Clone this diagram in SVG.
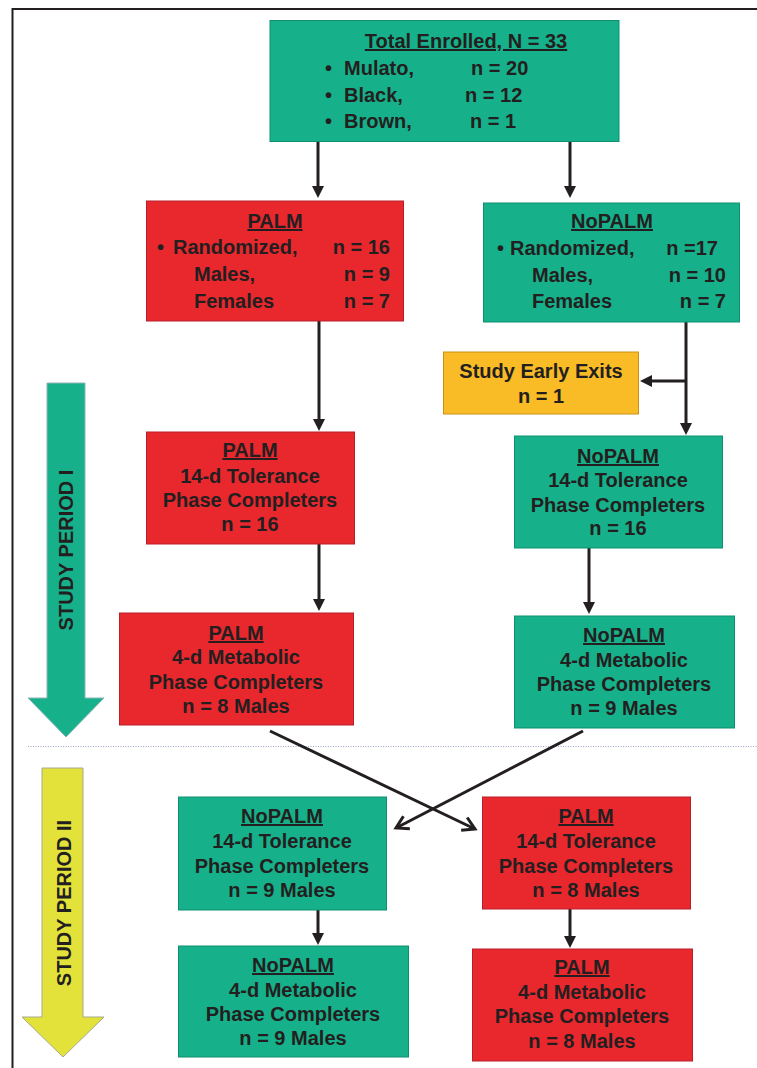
<svg xmlns="http://www.w3.org/2000/svg" width="757" height="1068" viewBox="0 0 757 1068">
<defs>
<style>
.t{font-family:"Liberation Sans",Arial,Helvetica,sans-serif;font-weight:bold;font-size:20px;fill:#231F20;}
.c{text-anchor:middle;}
.e{text-anchor:end;}
.u{text-decoration:underline;}
.g{fill:#16B08A;stroke:#0F8F70;stroke-width:1;}
.r{fill:#E9282E;stroke:#B81E28;stroke-width:1;}
.o{fill:#F9BB26;stroke:#C9921A;stroke-width:1;}
.ln{stroke:#231F20;stroke-width:3;fill:none;}
</style>
<marker id="tri" viewBox="0 0 12 12" markerWidth="12" markerHeight="12" refX="4" refY="6" orient="auto" markerUnits="userSpaceOnUse">
<path d="M0,0 L12,6 L0,12 z" fill="#231F20"/>
</marker>
<marker id="chev" viewBox="-2 -2 18 18" markerWidth="18" markerHeight="18" refX="13" refY="7" orient="auto" markerUnits="userSpaceOnUse">
<path d="M1,0 L13,7 L1,14" fill="none" stroke="#231F20" stroke-width="3"/>
</marker>
</defs>
<rect width="757" height="1068" fill="#ffffff"/>
<g id="frame">
<path d="M12.5,1068 L12.5,9 L757,9" fill="none" stroke="#231F20" stroke-width="2"/>
<line x1="28" y1="746.5" x2="757" y2="746.5" stroke="#9AA6C8" stroke-width="1" stroke-dasharray="1,1.5"/>
</g>
<g id="period1">
<polygon points="47,383 85,383 85,698 104,698 66,737 28,698 47,698" fill="#16B08A" stroke="#8FB3B8" stroke-width="1"/>
<text class="t c" transform="translate(73,550) rotate(-90)">STUDY PERIOD I</text>
</g>
<g id="period2">
<polygon points="42,768 83,768 83,1017 104,1017 63,1057 22,1017 42,1017" fill="#E3E23A" stroke="#A8A88A" stroke-width="1"/>
<text class="t c" transform="translate(71,903) rotate(-90)">STUDY PERIOD II</text>
</g>
<g id="connectors">
<line class="ln" x1="318" y1="142" x2="318" y2="190" marker-end="url(#tri)"/>
<line class="ln" x1="570" y1="142" x2="570" y2="190" marker-end="url(#tri)"/>
<line class="ln" x1="319" y1="321" x2="319" y2="423" marker-end="url(#tri)"/>
<line class="ln" x1="686" y1="322" x2="686" y2="427" marker-end="url(#tri)"/>
<line class="ln" x1="687" y1="381" x2="648" y2="381" marker-end="url(#tri)"/>
<line class="ln" x1="319" y1="544" x2="319" y2="603" marker-end="url(#tri)"/>
<line class="ln" x1="589" y1="548" x2="589" y2="606" marker-end="url(#tri)"/>
<line class="ln" x1="270" y1="731" x2="475" y2="829" marker-end="url(#chev)"/>
<line class="ln" x1="583" y1="731" x2="396" y2="828" marker-end="url(#chev)"/>
<line class="ln" x1="318" y1="910" x2="318" y2="937" marker-end="url(#tri)"/>
<line class="ln" x1="570" y1="909" x2="570" y2="940" marker-end="url(#tri)"/>
</g>
<g id="enrolled">
<rect class="g" x="270" y="20.5" width="349" height="121"/>
<text class="t c u" x="466" y="48">Total Enrolled, N = 33</text>
<text class="t" x="325" y="75">•</text>
<text class="t" x="344" y="75">Mulato,</text>
<text class="t" x="471" y="75">n = 20</text>
<text class="t" x="325" y="102">•</text>
<text class="t" x="344" y="102">Black,</text>
<text class="t" x="465" y="102">n = 12</text>
<text class="t" x="325" y="128">•</text>
<text class="t" x="344" y="128">Brown,</text>
<text class="t" x="470" y="128">n = 1</text>
</g>
<g id="palm">
<rect class="r" x="146.5" y="201" width="257" height="120"/>
<text class="t c u" x="275" y="228">PALM</text>
<text class="t" x="157" y="254">•</text>
<text class="t" x="173" y="254">Randomized,</text>
<text class="t e" x="390" y="254">n = 16</text>
<text class="t" x="194" y="281">Males,</text>
<text class="t e" x="390" y="281">n = 9</text>
<text class="t" x="194" y="308">Females</text>
<text class="t e" x="390" y="308">n = 7</text>
</g>
<g id="nopalm">
<rect class="g" x="483.5" y="203" width="256" height="119"/>
<text class="t c u" x="612" y="228">NoPALM</text>
<text class="t" x="497" y="255">•</text>
<text class="t" x="510" y="255">Randomized,</text>
<text class="t e" x="718" y="255">n =17</text>
<text class="t" x="532" y="282">Males,</text>
<text class="t e" x="726" y="282">n = 10</text>
<text class="t" x="532" y="308">Females</text>
<text class="t e" x="726" y="308">n = 7</text>
</g>
<g id="exits">
<rect class="o" x="443.5" y="352" width="195" height="62"/>
<text class="t c" x="541" y="378">Study Early Exits</text>
<text class="t c" x="541" y="403">n = 1</text>
</g>
<g id="palm14">
<rect class="r" x="146.5" y="432" width="208" height="112"/>
<text class="t c u" x="250" y="457">PALM</text>
<text class="t c" x="250" y="483">14-d Tolerance</text>
<text class="t c" x="250" y="507">Phase Completers</text>
<text class="t c" x="250" y="531">n = 16</text>
</g>
<g id="nopalm14">
<rect class="g" x="514.5" y="436" width="208" height="112"/>
<text class="t c u" x="618" y="463">NoPALM</text>
<text class="t c" x="618" y="487">14-d Tolerance</text>
<text class="t c" x="618" y="512">Phase Completers</text>
<text class="t c" x="618" y="535">n = 16</text>
</g>
<g id="palm4">
<rect class="r" x="119.5" y="613" width="234" height="112"/>
<text class="t c u" x="236" y="640">PALM</text>
<text class="t c" x="236" y="664">4-d Metabolic</text>
<text class="t c" x="236" y="689">Phase Completers</text>
<text class="t c" x="236" y="713">n = 8 Males</text>
</g>
<g id="nopalm4">
<rect class="g" x="514.5" y="616" width="220" height="112"/>
<text class="t c u" x="624" y="642">NoPALM</text>
<text class="t c" x="624" y="667">4-d Metabolic</text>
<text class="t c" x="624" y="691">Phase Completers</text>
<text class="t c" x="624" y="715">n = 9 Males</text>
</g>
<g id="nopalm14b">
<rect class="g" x="178.5" y="797" width="208" height="113"/>
<text class="t c u" x="282" y="823">NoPALM</text>
<text class="t c" x="282" y="848">14-d Tolerance</text>
<text class="t c" x="282" y="873">Phase Completers</text>
<text class="t c" x="282" y="897">n = 9 Males</text>
</g>
<g id="palm14b">
<rect class="r" x="482.5" y="797" width="208" height="112"/>
<text class="t c u" x="586" y="823">PALM</text>
<text class="t c" x="586" y="848">14-d Tolerance</text>
<text class="t c" x="586" y="873">Phase Completers</text>
<text class="t c" x="586" y="897">n = 8 Males</text>
</g>
<g id="nopalm4b">
<rect class="g" x="178.5" y="946" width="230" height="111"/>
<text class="t c u" x="293" y="972">NoPALM</text>
<text class="t c" x="293" y="997">4-d Metabolic</text>
<text class="t c" x="293" y="1021">Phase Completers</text>
<text class="t c" x="293" y="1045">n = 9 Males</text>
</g>
<g id="palm4b">
<rect class="r" x="472.5" y="949" width="220" height="112"/>
<text class="t c u" x="582" y="974">PALM</text>
<text class="t c" x="582" y="999">4-d Metabolic</text>
<text class="t c" x="582" y="1023">Phase Completers</text>
<text class="t c" x="582" y="1048">n = 8 Males</text>
</g>
</svg>
